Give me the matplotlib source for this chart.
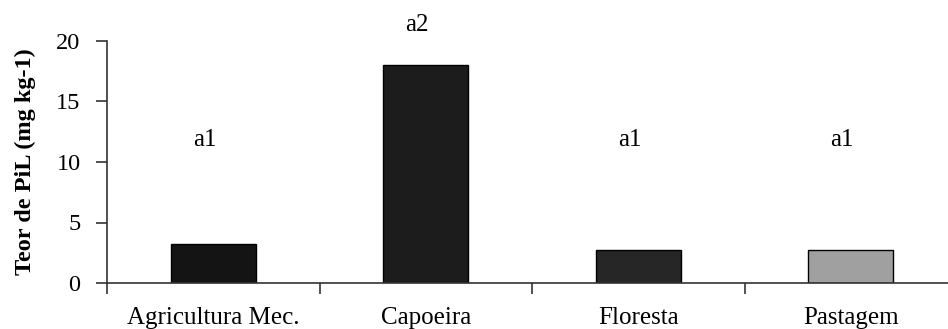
import matplotlib.pyplot as plt
import numpy as np

# data
categories = ['Agricultura Mec.', 'Capoeira', 'Floresta', 'Pastagem']
values = [3.2, 18.0, 2.75, 2.75]
letters = ['a1', 'a2', 'a1', 'a1']
letter_y = [11.8, 21.3, 11.8, 11.8]
bar_colors = ['#141414', '#1c1c1c', '#262626', '#a0a0a0']

plt.rcParams['font.family'] = ['Liberation Serif', 'DejaVu Serif']

fig = plt.figure(figsize=(9.48, 3.29), dpi=100)
ax = fig.add_axes([107 / 948, 46 / 329, 850 / 948, 242 / 329])

x = np.arange(len(categories))
ax.bar(x, values, width=0.4, color=bar_colors, edgecolor='black', linewidth=1)

# letters above bars (slightly left of bar centers, as in the original)
for i, (lab, ly) in enumerate(zip(letters, letter_y)):
    ax.text(i - 0.04, ly, lab, ha='center', va='center', fontsize=18, clip_on=False)

ax.set_xlim(-0.5, len(categories) - 0.5)
ax.set_ylim(0, 20)
ax.set_yticks([0, 5, 10, 15, 20])

# category labels at centers, tick marks at boundaries
ax.set_xticks(x)
ax.set_xticklabels(categories)
ax.set_xticks(np.arange(-0.5, len(categories) + 0.5, 1), minor=True)
ax.tick_params(axis='x', which='major', length=0, pad=17, labelsize=18)
ax.tick_params(axis='x', which='minor', length=8, width=1.2, direction='out', color='#333333')
ax.tick_params(axis='y', length=8, width=1.2, direction='out', pad=11, labelsize=17.5, color='#333333')

for s in ['top', 'right']:
    ax.spines[s].set_visible(False)
for s in ['left', 'bottom']:
    ax.spines[s].set_color('#333333')
    ax.spines[s].set_linewidth(1.2)

fig.text(25 / 948, 1 - 162 / 329, 'Teor de PiL (mg kg-1)', rotation=90,
         ha='center', va='center', fontsize=17.5, fontweight='bold')

fig.savefig('out.png', dpi=100)
